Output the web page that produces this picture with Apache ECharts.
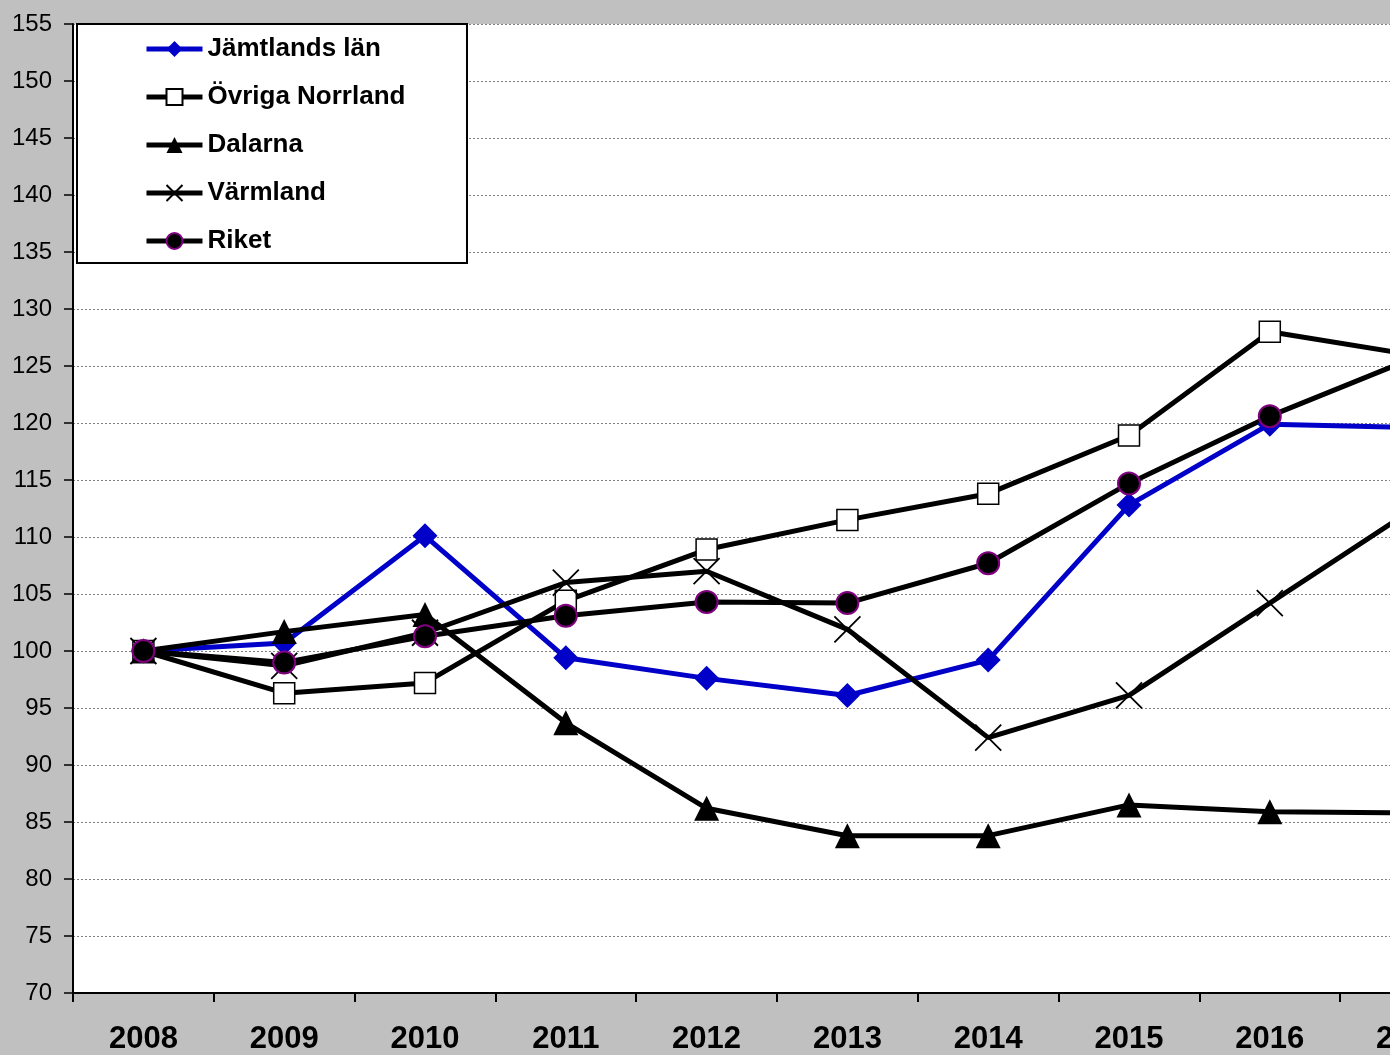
<!DOCTYPE html>
<html>
<head>
<meta charset="utf-8">
<script src="https://cdn.jsdelivr.net/npm/echarts@6/dist/echarts.min.js"></script>
<style>
  html, body { margin: 0; padding: 0; background: #c0c0c0; }
  #chart { width: 1390px; height: 1055px; }
</style>
</head>
<body>
<div id="chart"></div>
<script>
// Index series, 2008 = 100
const years = ['2008', '2009', '2010', '2011', '2012', '2013', '2014', '2015', '2016', '2017'];
const jamtland = [100, 100.7, 110.1, 99.4, 97.6, 96.1, 99.2, 112.8, 119.9, 119.6];
const ovrigaNorrland = [100, 96.3, 97.2, 104.4, 108.9, 111.5, 113.8, 118.9, 128.0, 126.0];
const dalarna = [100, 101.7, 103.2, 93.7, 86.2, 83.8, 83.8, 86.5, 85.9, 85.8];
const varmland = [100, 98.7, 101.6, 106.0, 107.0, 101.9, 92.4, 96.1, 104.2, 112.3];
const riket = [100, 99.0, 101.3, 103.1, 104.3, 104.2, 107.7, 114.7, 120.6, 125.6];

const yMin = 70, yMax = 155, yStep = 5;

const chart = echarts.init(document.getElementById('chart'), null, { renderer: 'canvas' });

const baseFont = 'Liberation Sans, Arial, sans-serif';

function lineSeries(name, data, color, symbol, size, itemStyle) {
  return {
    name: name,
    type: 'line',
    data: data,
    symbol: symbol,
    symbolSize: size,
    showAllSymbol: true,
    lineStyle: { color: color, width: 5 },
    itemStyle: itemStyle,
    emphasis: { disabled: true },
    silent: true
  };
}

chart.setOption({
  animation: false,
  backgroundColor: '#c0c0c0',
  grid: {
    show: true,
    left: 73,
    top: 24,
    width: 1408,
    height: 969,
    containLabel: false,
    outerBoundsMode: 'none',
    backgroundColor: '#ffffff',
    borderWidth: 0
  },
  graphic: [{
    type: 'rect',
    z: 3,
    shape: { x: 77, y: 24, width: 390, height: 239 },
    style: { fill: '#ffffff', stroke: '#000000', lineWidth: 2 }
  }],
  legend: {
    z: 10,
    orient: 'vertical',
    left: 144,
    top: 36,
    padding: 0,
    itemWidth: 56,
    itemHeight: 20,
    itemGap: 22,
    lineStyle: { width: 5 },
    textStyle: {
      fontFamily: baseFont,
      fontWeight: 'bold',
      fontSize: 26,
      color: '#000'
    },
    data: ['Jämtlands län', 'Övriga Norrland', 'Dalarna', 'Värmland', 'Riket']
  },
  xAxis: {
    type: 'category',
    data: years,
    boundaryGap: true,
    axisLine: { lineStyle: { color: '#000', width: 2 } },
    axisTick: { show: true, inside: false, length: 9, interval: 0, lineStyle: { color: '#000', width: 2 } },
    axisLabel: {
      interval: 0,
      margin: 31,
      fontFamily: baseFont,
      fontWeight: 'bold',
      fontSize: 31,
      color: '#000'
    },
    splitLine: { show: false }
  },
  yAxis: {
    type: 'value',
    min: yMin,
    max: yMax,
    interval: yStep,
    axisLine: { show: true, lineStyle: { color: '#000', width: 2 } },
    axisTick: { show: true, inside: false, length: 9, lineStyle: { color: '#000', width: 1.5 } },
    axisLabel: {
      margin: 21,
      fontFamily: baseFont,
      fontSize: 24,
      color: '#000'
    },
    splitLine: { show: true, lineStyle: { color: '#808080', width: 1, type: [2, 2] } }
  },
  series: [
    lineSeries('Jämtlands län', jamtland, '#0000c8', 'diamond', 25,
      { color: '#0000c8', borderColor: '#0000c8', borderWidth: 0 }),
    lineSeries('Övriga Norrland', ovrigaNorrland, '#000000', 'rect', 21,
      { color: '#ffffff', borderColor: '#000000', borderWidth: 1.5 }),
    lineSeries('Dalarna', dalarna, '#000000', 'triangle', 25,
      { color: '#000000', borderColor: '#000000', borderWidth: 0 }),
    lineSeries('Värmland', varmland, '#000000', 'path://M0,0L24,24M24,0L0,24', 26,
      { color: 'rgba(0,0,0,0)', borderColor: '#000000', borderWidth: 1.8 }),
    lineSeries('Riket', riket, '#000000', 'circle', 22,
      { color: '#000000', borderColor: '#800080', borderWidth: 2 })
  ]
});
</script>
</body>
</html>
